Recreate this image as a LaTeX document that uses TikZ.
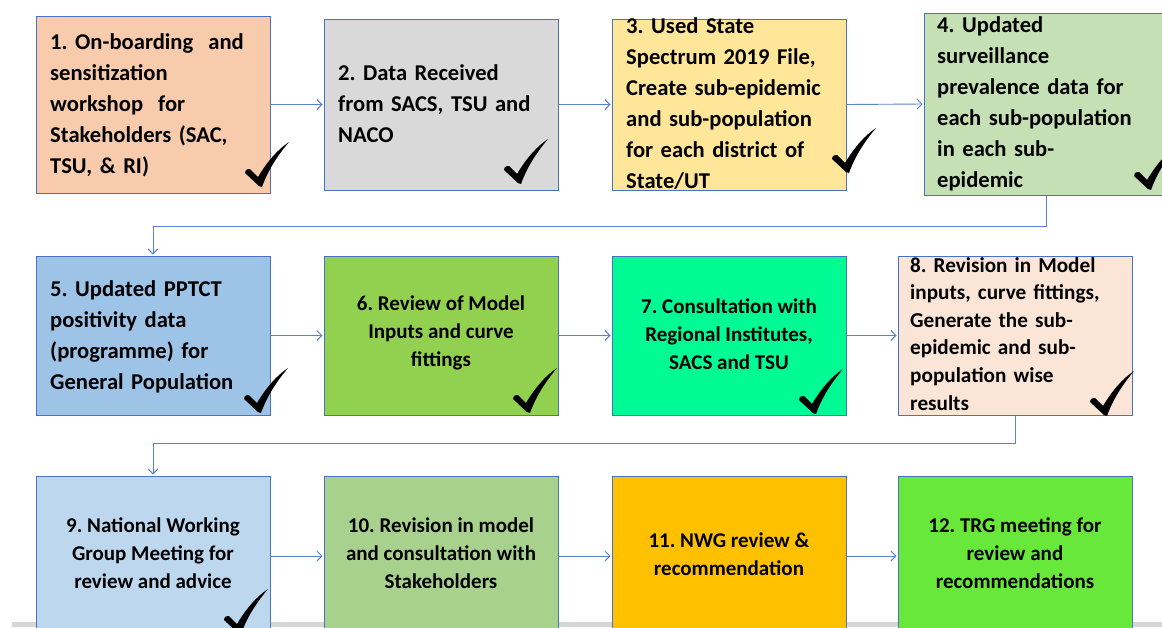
\documentclass[tikz,border=0pt]{standalone}
\usepackage{fontspec}
\setmainfont{Carlito}
\usetikzlibrary{arrows.meta}
\frenchspacing
\definecolor{edgeblue}{HTML}{4A72C4}
\definecolor{flowblue}{HTML}{5B84D0}
\definecolor{c1}{HTML}{F8CBAD}
\definecolor{c2}{HTML}{D9D9D9}
\definecolor{c3}{HTML}{FFE699}
\definecolor{c4}{HTML}{C5E0B4}
\definecolor{c5}{HTML}{9DC3E6}
\definecolor{c6}{HTML}{92D050}
\definecolor{c7}{HTML}{00FA94}
\definecolor{c8}{HTML}{FBE5D6}
\definecolor{c9}{HTML}{BDD7EE}
\definecolor{c10}{HTML}{A9D18E}
\definecolor{c11}{HTML}{FFC000}
\definecolor{c12}{HTML}{68E83A}
\tikzset{
  stepbox/.style={draw=edgeblue, line width=1pt, rectangle, inner sep=0pt,
    minimum width=234pt},
  txtl/.style={anchor=base west, text width=240pt, align=left, inner sep=0pt,
    font=\bfseries\fontsize{22.6}{31}\selectfont},
  txtm/.style={anchor=base west, text width=240pt, align=left, inner sep=0pt,
    font=\bfseries\fontsize{21.2}{27.6}\selectfont},
  txtc/.style={anchor=center, align=center, inner sep=0pt,
    font=\bfseries\fontsize{21}{28}\selectfont},
  flow/.style={draw=flowblue, line width=0.9pt, shorten >=1pt,
    -{Straight Barb[length=5pt,width=10pt,line width=0.9pt]}},
  donemark/.pic={
    \fill[black] (0,0) -- (-14,-13) .. controls (-14,-16) and (-11,-18) .. (-9,-17)
      -- (-1,-9) .. controls (8,-24) and (18,-36) .. (30,-44)
      .. controls (19,-31) and (9,-16) .. (3,1) -- cycle;
  }
}
\begin{document}
\begin{tikzpicture}[x=1pt,y=-1pt]
\useasboundingbox (0,0) rectangle (1162,627);
\fill[white] (0,0) rectangle (1162,627);
% grey strip along the lower edge
\fill[black!16] (12,622) rectangle (1162,627);

% row 1
\node[stepbox, fill=c1, minimum height=177pt] (b1) at (153,104.5) {};
\node[stepbox, fill=c2, minimum height=171pt] (b2) at (441,104.5) {};
\node[stepbox, fill=c3, minimum height=171pt] (b3) at (729,104.5) {};
\node[stepbox, fill=c4, minimum height=182pt, minimum width=244pt] (b4) at (1046,104) {};
% row 2
\node[stepbox, fill=c5, minimum height=159pt] (b5) at (153,335.5) {};
\node[stepbox, fill=c6, minimum height=159pt] (b6) at (441,335.5) {};
\node[stepbox, fill=c7, minimum height=159pt] (b7) at (729,335.5) {};
\node[stepbox, fill=c8, minimum height=159pt] (b8) at (1015,335.5) {};
% row 3
\node[stepbox, fill=c9, minimum height=160pt] (b9) at (153,556) {};
\node[stepbox, fill=c10, minimum height=160pt] (b10) at (441,556) {};
\node[stepbox, fill=c11, minimum height=160pt] (b11) at (729,556) {};
\node[stepbox, fill=c12, minimum height=160pt] (b12) at (1015,556) {};

% texts
\node[txtl] (t1) at (50,49) {1. On-boarding\ \ and\\sensitization\\workshop\ \ for\\Stakeholders (SAC,\\TSU, \& RI)};
\node[txtl] (t2) at (338,80) {2. Data Received\\from SACS, TSU and\\NACO};
\node[txtl] (t3) at (626,33) {3. Used State\\Spectrum 2019 File,\\Create sub-epidemic\\and sub-population\\for each district of\\State/UT};
\node[txtl] (t4) at (937,32) {4. Updated\\surveillance\\prevalence data for\\each sub-population\\in each sub-\\epidemic};
\node[txtl] (t5) at (50,296) {5. Updated PPTCT\\positivity data\\(programme) for\\General Population};
\node[txtc] (t6) at (441,333) {6. Review of Model\\Inputs and curve\\fittings};
\node[txtc] (t7) at (729,334) {7. Consultation with\\Regional Institutes,\\SACS and TSU};
\node[txtm] (t8) at (910,272) {8. Revision in Model\\inputs, curve fittings,\\Generate the sub-\\epidemic and sub-\\population wise\\results};
\node[txtc] (t9) at (153,553) {9. National Working\\Group Meeting for\\review and advice};
\node[txtc] (t10) at (441,553) {10. Revision in model\\and consultation with\\Stakeholders};
\node[txtc] (t11) at (729,554) {11. NWG review \&\\recommendation};
\node[txtc] (t12) at (1015,553) {12. TRG meeting for\\review and\\recommendations};

% check marks
\pic at (259,186) {donemark};
\pic at (518,183) {donemark};
\pic at (846,172) {donemark};
\pic at (1148,189) {donemark};
\pic at (258,412) {donemark};
\pic at (527,412) {donemark};
\pic at (813,413) {donemark};
\pic at (1104,415) {donemark};
\pic at (238,633) {donemark};

% connectors
\draw[flow] (b1.east) -- (b2.west);
\draw[flow] (b2.east) -- (b3.west);
\draw[flow] (b3.east) -- (b4.west);
\draw[flow] (b4.south) -- ++(0,31) -| (b5.north);
\draw[flow] (b5.east) -- (b6.west);
\draw[flow] (b6.east) -- (b7.west);
\draw[flow] (b7.east) -- (b8.west);
\draw[flow] (b8.south) -- ++(0,28) -| (b9.north);
\draw[flow] (b9.east) -- (b10.west);
\draw[flow] (b10.east) -- (b11.west);
\draw[flow] (b11.east) -- (b12.west);
\end{tikzpicture}
\end{document}
